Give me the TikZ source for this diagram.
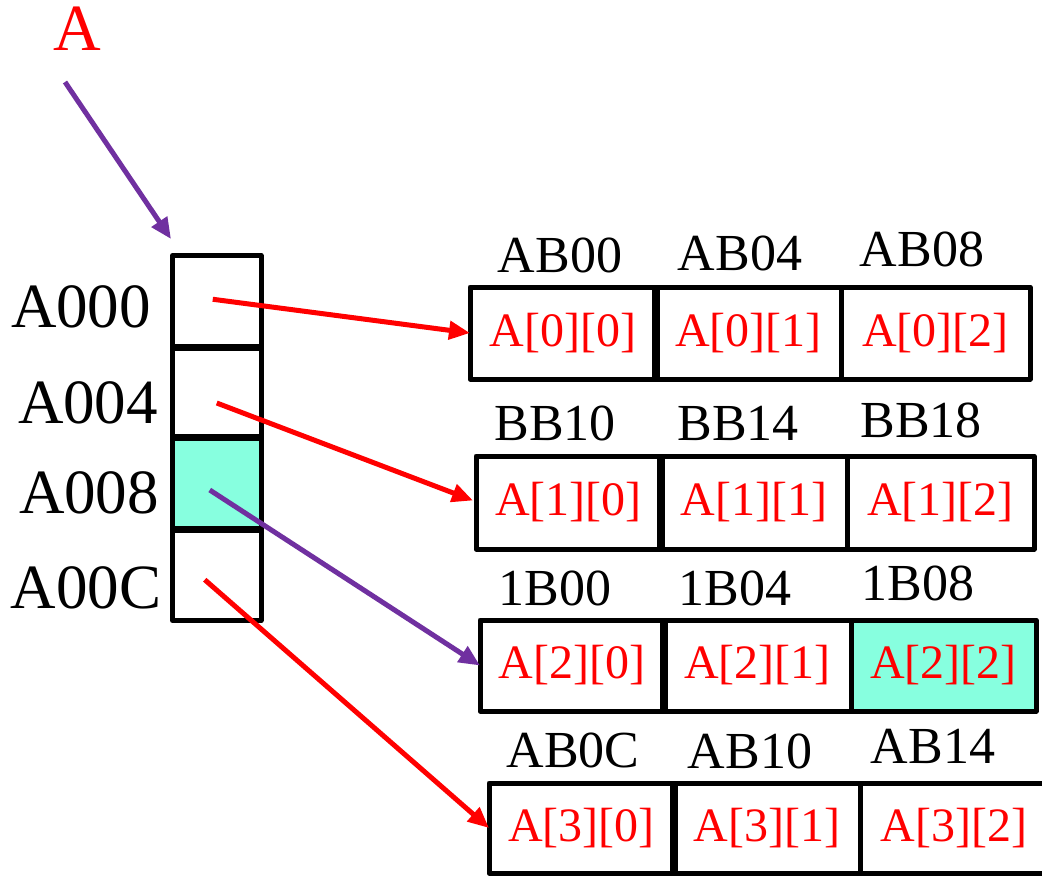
\documentclass[tikz,border=0pt]{standalone}
\usepackage{fontspec}
\setmainfont{Liberation Serif}
\usetikzlibrary{arrows.meta,calc}
\definecolor{aqua}{RGB}{135,255,223}
\definecolor{purp}{RGB}{112,48,160}
\begin{document}
\begin{tikzpicture}[x=1pt,y=-1pt,
  cell/.style={draw=black, line width=5pt, line join=round, inner sep=0pt, outer sep=0pt,
    text=red, font=\fontsize{48}{48}\selectfont},
  mem/.style={draw=black, line width=5pt, line join=round, inner sep=0pt, outer sep=0pt,
    minimum width=88.5pt},
  addr/.style={anchor=base, inner sep=0pt, font=\fontsize{52}{52}\selectfont},
  lab/.style={anchor=base, inner sep=0pt, font=\fontsize{63}{63}\selectfont},
  redarrow/.style={draw=red, line width=5pt, -{Triangle[length=21pt,width=18pt]}},
  purparrow/.style={draw=purp, line width=5pt, -{Triangle[length=21pt,width=18pt]}},
  thickdiv/.style={line width=8pt},
  memdiv/.style={line width=7pt}]
\clip (0,0) rectangle (1042,876);
\fill[white] (0,0) rectangle (1042,876);

% top label
\node[anchor=base, inner sep=0pt, text=red, font=\fontsize{66}{66}\selectfont] (topA) at (77,50) {A};
\coordinate (pA) at (65,82);
\coordinate (pAend) at (171,239);

% memory column
\node[mem, minimum height=91.5pt] (m0) at (216.75,301.25) {};
\node[mem, minimum height=90pt] (m1) at (216.75,392) {};
\node[mem, minimum height=92pt, fill=aqua] (m2) at (216.75,483) {};
\node[mem, minimum height=91.5pt] (m3) at (216.75,574.75) {};
\draw[memdiv] (m0.south west) -- (m0.south east);
\draw[memdiv] (m2.north west) -- (m2.north east);
\draw[memdiv] (m2.south west) -- (m2.south east);

\node[lab] (l0) at (81,327) {A000};
\node[lab] (l1) at (88,423) {A004};
\node[lab] (l2) at (89,513) {A008};
\node[lab] (l3) at (86,608) {A00C};

% row 0
\node[cell, minimum width=186pt, minimum height=92pt] (c00) at (563,333) {A[0][0]};
\node[cell, minimum width=185pt, minimum height=92pt] (c01) at (748.5,333) {A[0][1]};
\node[cell, minimum width=189pt, minimum height=92pt] (c02) at (935.5,333) {A[0][2]};
\draw[thickdiv] (c00.north east) -- (c00.south east);
\node[addr] (a00) at (560,272) {AB00};
\node[addr] (a01) at (740,270) {AB04};
\node[addr] (a02) at (922,266) {AB08};

% row 1
\node[cell, minimum width=185pt, minimum height=93pt] (c10) at (568.5,502.5) {A[1][0]};
\node[cell, minimum width=186pt, minimum height=93pt] (c11) at (754,502.5) {A[1][1]};
\node[cell, minimum width=187pt, minimum height=93pt] (c12) at (940.5,502.5) {A[1][2]};
\draw[thickdiv] (c10.north east) -- (c10.south east);
\node[addr] (a10) at (555,440) {BB10};
\node[addr] (a11) at (738,440) {BB14};
\node[addr] (a12) at (921,437) {BB18};

% row 2
\node[cell, minimum width=184pt, minimum height=91pt] (c20) at (572,665.5) {A[2][0]};
\node[cell, minimum width=187pt, minimum height=91pt] (c21) at (757.5,665.5) {A[2][1]};
\node[cell, minimum width=185pt, minimum height=91pt, fill=aqua] (c22) at (943.5,665.5) {A[2][2]};
\draw[thickdiv] (c20.north east) -- (c20.south east);
\node[addr] (a20) at (555,605) {1B00};
\node[addr] (a21) at (735,605) {1B04};
\node[addr] (a22) at (918,600) {1B08};

% row 3
\node[cell, minimum width=185pt, minimum height=90pt] (c30) at (581.5,828) {A[3][0]};
\node[cell, minimum width=186pt, minimum height=90pt] (c31) at (767,828) {A[3][1]};
\node[cell, minimum width=188pt, minimum height=90pt] (c32) at (954,828) {A[3][2]};
\draw[thickdiv] (c30.north east) -- (c30.south east);
\node[addr] (a30) at (573,767) {AB0C};
\node[addr] (a31) at (750,768) {AB10};
\node[addr] (a32) at (933,763) {AB14};

% connectors
\draw[purparrow] (pA) -- (pAend);
\draw[redarrow] ($(m0.center)+(-4,-2)$) -- (c00.west);
\draw[redarrow] ($(m1.center)+(0,11)$) -- ($(c10.west)+(-3,-2)$);
\draw[purparrow] ($(m2.center)+(-7,7)$) -- (c20.west);
\draw[redarrow] ($(m3.center)+(-12,5)$) -- (c30.west);
\end{tikzpicture}
\end{document}
